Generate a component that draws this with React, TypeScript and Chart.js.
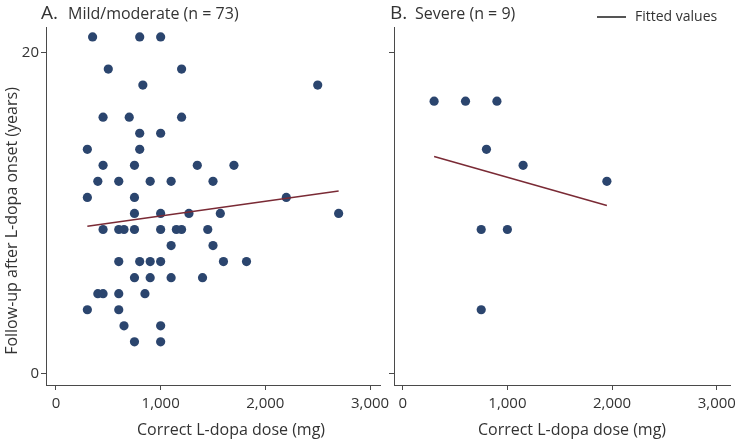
import React, { useEffect, useRef } from "react";
import { Chart, registerables } from "chart.js";

Chart.register(...registerables);

const FONT = "'Open Sans', sans-serif";
const TEXT = "#333333";
const AXIS = "#4a4a4a";
const DOT = "#2b456e";
const FIT = "#7a2a35";

const doseTicks = [0, 1000, 2000, 3000];
const yearTicks = [0, 20];

const mildDose = [
  350, 800, 1000,
  500, 1200,
  830, 2500,
  450, 700, 1200,
  800, 1000,
  300, 800,
  450, 750, 1350, 1700,
  400, 600, 900, 1100, 1500,
  300, 750, 2200,
  750, 1000, 1270, 1570, 2700,
  450, 600, 650, 750, 1000, 1150, 1200, 1450,
  1100, 1500,
  600, 800, 900, 1000, 1600, 1820,
  750, 900, 1100, 1400,
  400, 450, 600, 850,
  300, 600,
  650, 1000,
  750, 1000,
];
const mildYears = [
  21, 21, 21,
  19, 19,
  18, 18,
  16, 16, 16,
  15, 15,
  14, 14,
  13, 13, 13, 13,
  12, 12, 12, 12, 12,
  11, 11, 11,
  10, 10, 10, 10, 10,
  9, 9, 9, 9, 9, 9, 9, 9,
  8, 8,
  7, 7, 7, 7, 7, 7,
  6, 6, 6, 6,
  5, 5, 5, 5,
  4, 4,
  3, 3,
  2, 2,
];
const mildFitDose = [300, 2700];
const mildFitYears = [9.2, 11.4];

const severeDose = [300, 600, 900, 800, 1150, 1950, 750, 1000, 750];
const severeYears = [17, 17, 17, 14, 13, 12, 9, 9, 4];
const severeFitDose = [300, 1950];
const severeFitYears = [13.55, 10.5];

const titleLeftMain = "A.";
const titleLeftSub = "Mild/moderate (n = 73)";
const titleRightMain = "B.";
const titleRightSub = "Severe (n = 9)";
const xTitle = "Correct L-dopa dose (mg)";
const yTitle = "Follow-up after L-dopa onset (years)";
const legendLabel = "Fitted values";

type PanelOpts = {
  xs: number[];
  ys: number[];
  fx: number[];
  fy: number[];
  xMin: number;
  xMax: number;
  yAxisWidth: number;
  padRight: number;
  showYLabels: boolean;
  draw: (ctx: CanvasRenderingContext2D) => void;
};

function makeChart(canvas: HTMLCanvasElement, o: PanelOpts) {
  const textPlugin = {
    id: "panelText",
    afterDraw(chart: any) {
      const ctx = chart.ctx as CanvasRenderingContext2D;
      ctx.save();
      o.draw(ctx);
      ctx.restore();
    },
  };
  return new Chart(canvas, {
    type: "scatter",
    data: {
      datasets: [
        {
          label: "fit",
          data: o.fx.map((x, i) => ({ x, y: o.fy[i] })),
          showLine: true,
          borderColor: FIT,
          borderWidth: 1.5,
          pointRadius: 0,
          order: 0,
        },
        {
          label: "points",
          data: o.xs.map((x, i) => ({ x, y: o.ys[i] })),
          backgroundColor: DOT,
          borderWidth: 0,
          pointRadius: 4.6,
          order: 1,
        },
      ],
    },
    options: {
      responsive: false,
      animation: false,
      devicePixelRatio: 1,
      layout: { padding: { top: 27, right: o.padRight, left: 0, bottom: 0 } },
      plugins: { legend: { display: false }, tooltip: { enabled: false } },
      scales: {
        x: {
          type: "linear",
          min: o.xMin,
          max: o.xMax,
          afterBuildTicks: (s: any) => {
            s.ticks = doseTicks.map((v) => ({ value: v }));
          },
          afterFit: (s: any) => {
            s.height = 56;
            s.paddingLeft = 0;
            s.paddingRight = 0;
          },
          border: { display: true, color: AXIS, width: 1 },
          grid: {
            display: true,
            drawOnChartArea: false,
            drawTicks: true,
            tickLength: 5,
            tickColor: AXIS,
            tickWidth: 1,
          },
          ticks: {
            font: { family: FONT, size: 15 },
            color: TEXT,
            padding: 5,
            maxRotation: 0,
            autoSkip: false,
            callback: (v: any) => Number(v).toLocaleString("en-US"),
          },
        },
        y: {
          type: "linear",
          min: -0.69,
          max: 21.62,
          afterBuildTicks: (s: any) => {
            s.ticks = yearTicks.map((v) => ({ value: v }));
          },
          afterFit: (s: any) => {
            s.width = o.yAxisWidth;
            s.paddingTop = 0;
            s.paddingBottom = 0;
          },
          border: { display: true, color: AXIS, width: 1 },
          grid: {
            display: true,
            drawOnChartArea: false,
            drawTicks: true,
            tickLength: 5,
            tickColor: AXIS,
            tickWidth: 1,
          },
          ticks: {
            display: o.showYLabels,
            font: { family: FONT, size: 15 },
            color: TEXT,
            padding: 2,
            autoSkip: false,
          },
        },
      },
    },
    plugins: [textPlugin],
  } as any);
}

export default function App() {
  const leftRef = useRef<HTMLCanvasElement>(null);
  const rightRef = useRef<HTMLCanvasElement>(null);

  useEffect(() => {
    document.body.style.margin = "0";
    const left = makeChart(leftRef.current!, {
      xs: mildDose,
      ys: mildYears,
      fx: mildFitDose,
      fy: mildFitYears,
      xMin: -95,
      xMax: 3095,
      yAxisWidth: 46,
      padRight: 12,
      showYLabels: true,
      draw: (ctx) => {
        ctx.fillStyle = TEXT;
        ctx.textBaseline = "alphabetic";
        ctx.textAlign = "left";
        ctx.font = `19px ${FONT}`;
        ctx.fillText(titleLeftMain, 41, 18.5);
        ctx.font = `16px ${FONT}`;
        ctx.fillText(titleLeftSub, 68, 18.5);
        ctx.textAlign = "center";
        ctx.textBaseline = "alphabetic";
        ctx.font = `16px ${FONT}`;
        ctx.fillText(xTitle, 231, 435);
        ctx.save();
        ctx.translate(12, 221);
        ctx.rotate(-Math.PI / 2);
        ctx.textBaseline = "middle";
        ctx.font = `16px ${FONT}`;
        ctx.fillText(yTitle, 0, 0);
        ctx.restore();
      },
    });
    const right = makeChart(rightRef.current!, {
      xs: severeDose,
      ys: severeYears,
      fx: severeFitDose,
      fy: severeFitYears,
      xMin: -83,
      xMax: 3126,
      yAxisWidth: 6,
      padRight: 5,
      showYLabels: false,
      draw: (ctx) => {
        ctx.fillStyle = TEXT;
        ctx.textBaseline = "alphabetic";
        ctx.textAlign = "left";
        ctx.font = `19px ${FONT}`;
        ctx.fillText(titleRightMain, 2, 18.5);
        ctx.font = `16px ${FONT}`;
        ctx.fillText(titleRightSub, 27, 18.5);
        ctx.strokeStyle = "#555555";
        ctx.lineWidth = 2;
        ctx.beginPath();
        ctx.moveTo(209, 17);
        ctx.lineTo(238, 17);
        ctx.stroke();
        ctx.font = `14px ${FONT}`;
        ctx.textBaseline = "middle";
        ctx.fillText(legendLabel, 247, 17);
        ctx.textAlign = "center";
        ctx.textBaseline = "alphabetic";
        ctx.font = `16px ${FONT}`;
        ctx.fillText(xTitle, 184, 435);
      },
    });
    return () => {
      left.destroy();
      right.destroy();
    };
  }, []);

  return (
    <div style={{ position: "relative", width: 735, height: 441, background: "#fff" }}>
      <canvas
        ref={leftRef}
        width={392}
        height={441}
        style={{ position: "absolute", left: 0, top: 0, width: 392, height: 441 }}
      />
      <canvas
        ref={rightRef}
        width={347}
        height={441}
        style={{ position: "absolute", left: 388, top: 0, width: 347, height: 441 }}
      />
    </div>
  );
}
